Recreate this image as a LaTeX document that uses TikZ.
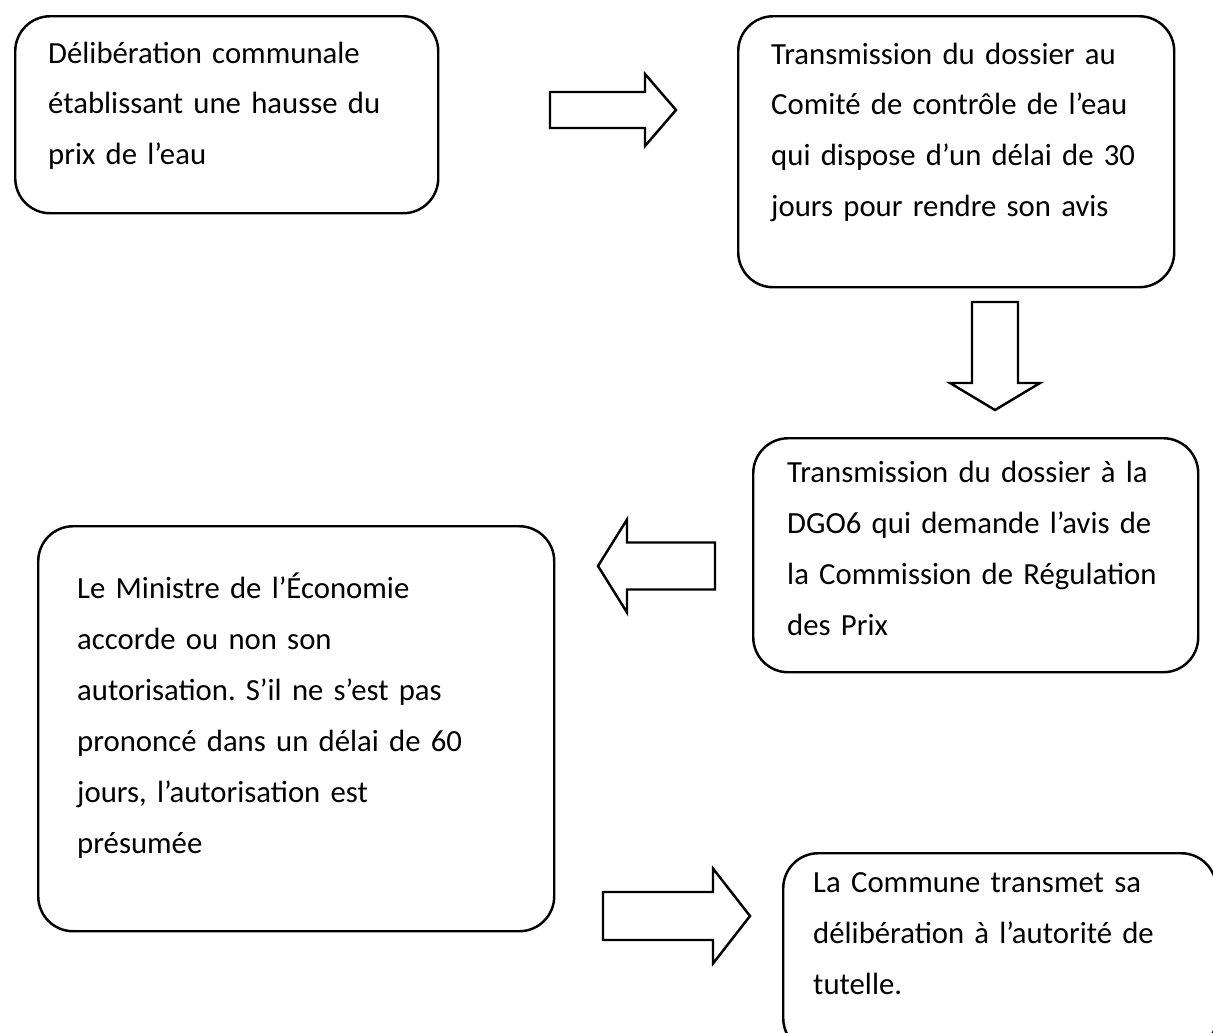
\documentclass[tikz,border=0pt]{standalone}
\usepackage{fontspec}
\setmainfont{Carlito}
\frenchspacing

% invisible depth at the end of a box text, lifts the text a little
\newcommand{\bas}[1]{\rule[-#1]{0pt}{0pt}}

\tikzset{
  etape/.style={draw, line width=1.4pt, rounded corners=0.7cm,
    anchor=north west, align=left, inner xsep=0.66cm,
    font=\fontsize{17.5}{29}\selectfont},
  % block arrow pointing along x: length/shaft half/head half/head length
  pics/fleche/.style args={#1/#2/#3/#4}{code={
    \draw[line width=1.4pt, line join=miter]
      (0,-#2) -- (#1-#4,-#2) -- (#1-#4,-#3) -- (#1,0)
      -- (#1-#4,#3) -- (#1-#4,#2) -- (0,#2) -- cycle;
  }}
}

\begin{document}
\begin{tikzpicture}[x=0.02cm, y=-0.02cm]

  \useasboundingbox (0,0) rectangle (1213,1032);
  \clip (0,0) rectangle (1213,1032);

  \node[etape, minimum width=423*0.02cm, minimum height=197*0.02cm,
    text width=357*0.02cm] (deliberation) at (14,15)
    {Délibération communale\\établissant une hausse du\\prix de l’eau\bas{13pt}};

  \node[etape, minimum width=436*0.02cm, minimum height=271*0.02cm,
    text width=370*0.02cm] (comite) at (737,15)
    {Transmission du dossier au\\Comité de contrôle de l’eau\\qui dispose d’un délai de 30\\jours pour rendre son avis\bas{25pt}};

  \node[etape, minimum width=445*0.02cm, minimum height=234*0.02cm,
    text width=377*0.02cm] (dgo) at (752,437)
    {Transmission du dossier à la\\DGO6 qui demande l’avis de\\la Commission de Régulation\\des Prix\bas{8pt}};

  \node[etape, minimum width=516*0.02cm, minimum height=405*0.02cm,
    text width=438*0.02cm, inner xsep=0.78cm] (ministre) at (37,525)
    {Le Ministre de l’Économie\\accorde ou non son\\autorisation. S’il ne s’est pas\\prononcé dans un délai de 60\\jours, l’autorisation est\\présumée\bas{18pt}};

  \node[etape, minimum width=433*0.02cm, minimum height=200*0.02cm,
    text width=373*0.02cm, inner xsep=0.6cm] (tutelle) at (782,852)
    {La Commune transmet sa\\délibération à l’autorité de\\tutelle.\bas{22pt}};

  % arrows between the steps
  \pic at (550,110) {fleche={126/18/36/31}};
  \pic[rotate=-90] at (995,302) {fleche={108/23/45/27}};
  \pic[rotate=180] at (715,566) {fleche={117/23.5/46.5/29}};
  \pic at (603,916) {fleche={147/24/47.5/37}};

\end{tikzpicture}
\end{document}
